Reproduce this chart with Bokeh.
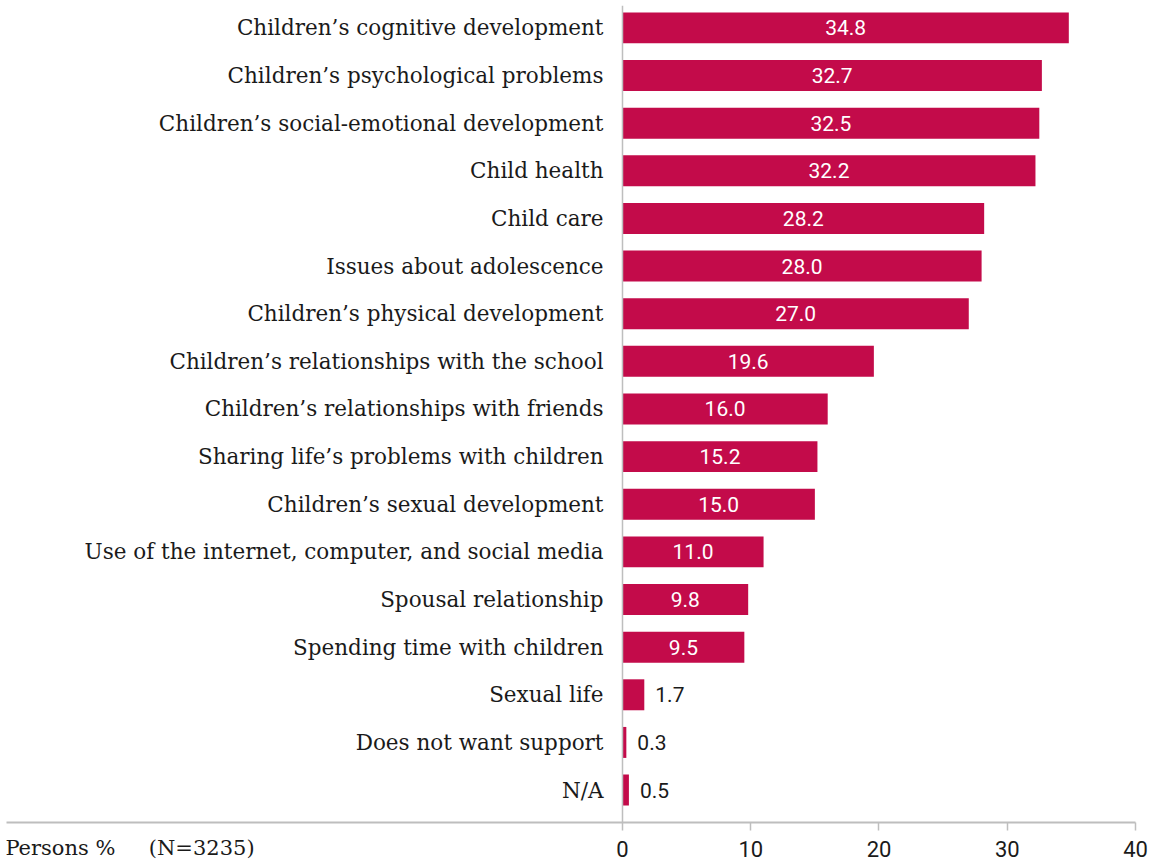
from bokeh.plotting import figure
from bokeh.models import ColumnDataSource, FixedTicker, Span
from bokeh.core.properties import value
from bokeh.embed import file_html
from bokeh.resources import INLINE

categories = [
    "Children’s cognitive development",
    "Children’s psychological problems",
    "Children’s social-emotional development",
    "Child health",
    "Child care",
    "Issues about adolescence",
    "Children’s physical development",
    "Children’s relationships with the school",
    "Children’s relationships with friends",
    "Sharing life’s problems with children",
    "Children’s sexual development",
    "Use of the internet, computer, and social media",
    "Spousal relationship",
    "Spending time with children",
    "Sexual life",
    "Does not want support",
    "N/A",
]
values = [34.8, 32.7, 32.5, 32.2, 28.2, 28.0, 27.0, 19.6, 16.0, 15.2, 15.0,
          11.0, 9.8, 9.5, 1.7, 0.3, 0.5]
x_ticks = [0, 10, 20, 30, 40]
x_tick_labels = ["0", "10", "20", "30", "40"]
axis_title = "Persons %"
sample_note = "(N=3235)"

BAR = "#C30B4A"
GRID = "#BEBEBE"
SERIF = "DejaVu Serif"
SANS = "Roboto"
NBSP = "\u00a0"

n = len(categories)
ypos = [n - 1 - i for i in range(n)]
inside = [v >= 5 for v in values]

src = ColumnDataSource(dict(y=ypos, v=values, cat=categories))
src_in = ColumnDataSource(dict(
    y=[y for y, f in zip(ypos, inside) if f],
    x=[v / 2 for v, f in zip(values, inside) if f],
    t=[f"{v:.1f}" for v, f in zip(values, inside) if f],
))
src_out = ColumnDataSource(dict(
    y=[y for y, f in zip(ypos, inside) if not f],
    x=[v for v, f in zip(values, inside) if not f],
    t=[f"{v:.1f}" for v, f in zip(values, inside) if not f],
))

p = figure(width=1153, height=862, output_backend="svg", toolbar_location=None,
           x_range=(-48.03, 40), y_range=(-0.681, 16.47),
           min_border_left=6, min_border_right=18, min_border_top=5,
           min_border_bottom=39)
p.outline_line_color = None
p.xgrid.visible = False
p.ygrid.visible = False
p.yaxis.visible = False
p.background_fill_color = "white"
p.border_fill_color = "white"

p.hbar(y="y", right="v", left=0, height=0.65, source=src,
       fill_color=BAR, line_color=None)

p.text(x=-1.48, y="y", text="cat", source=src, text_align="right",
       text_baseline="middle", text_font=value(SERIF),
       text_font_size="21.5px", text_color="#1a1a1a")

p.text(x="x", y="y", text="t", source=src_in, text_align="center",
       text_baseline="middle", text_font=value(SANS),
       text_font_size="21px", text_color="white")
p.text(x="x", y="y", text="t", source=src_out, text_align="left",
       text_baseline="middle", text_font=value(SANS), x_offset=11,
       text_font_size="21px", text_color="#1a1a1a")

p.add_layout(Span(location=0, dimension="height", line_color=GRID,
                  line_width=1.5))

ax = p.xaxis[0]
ax.ticker = FixedTicker(ticks=x_ticks)
ax.major_label_overrides = {t: l for t, l in zip(x_ticks, x_tick_labels)}
ax.minor_tick_line_color = None
ax.major_tick_in = 0
ax.major_tick_out = 8
ax.major_tick_line_color = GRID
ax.major_tick_line_width = 1.5
ax.axis_line_color = GRID
ax.axis_line_width = 2
ax.major_label_text_font = SANS
ax.major_label_text_font_size = "22px"
ax.major_label_text_color = "#1a1a1a"
ax.major_label_standoff = 10

# the axis label is centred on the axis start, so pad it on the left
title_text = axis_title + NBSP * 5 + sample_note
ax.axis_label = NBSP * 37 + title_text
ax.axis_label_text_font = SERIF
ax.axis_label_text_font_style = "normal"
ax.axis_label_text_font_size = "21px"
ax.axis_label_text_color = "#1a1a1a"
ax.axis_label_standoff = -24
ax.axis_label_align = "start"

open("out.html", "w").write(file_html(p, INLINE))
